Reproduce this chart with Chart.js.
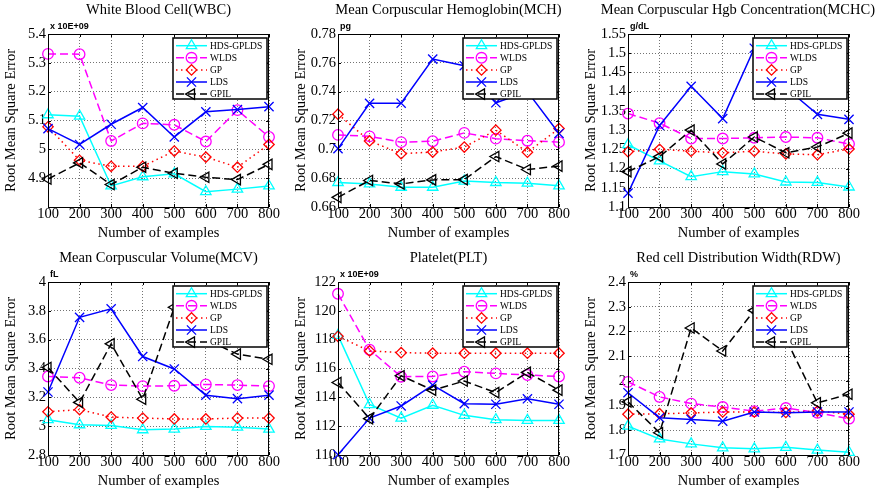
<!DOCTYPE html>
<html>
<head>
<meta charset="utf-8">
<script src="https://cdn.jsdelivr.net/npm/chart.js@4.4.0/dist/chart.umd.min.js"></script>
<style>
  html, body { margin: 0; padding: 0; background: #fff; }
  #wrap { position: relative; width: 878px; height: 496px; }
  .panel { position: absolute; height: 248px; }
</style>
</head>
<body>
<div id="wrap">
  <div class="panel" style="left:0;top:0;width:290px"><canvas id="c0"></canvas></div>
  <div class="panel" style="left:290px;top:0;width:290px"><canvas id="c1"></canvas></div>
  <div class="panel" style="left:580px;top:0;width:298px"><canvas id="c2"></canvas></div>
  <div class="panel" style="left:0;top:248px;width:290px"><canvas id="c3"></canvas></div>
  <div class="panel" style="left:290px;top:248px;width:290px"><canvas id="c4"></canvas></div>
  <div class="panel" style="left:580px;top:248px;width:298px"><canvas id="c5"></canvas></div>
</div>
<script>
// x values shared by every panel
var examples = [100, 200, 300, 400, 500, 600, 700, 800];
var seriesNames = ['HDS-GPLDS', 'WLDS', 'GP', 'LDS', 'GPIL'];

// White Blood Cell (x 10E+09)
var wbcHds  = [5.12, 5.115, 4.873, 4.905, 4.915, 4.853, 4.862, 4.873];
var wbcWlds = [5.331, 5.33, 5.029, 5.09, 5.085, 5.027, 5.136, 5.043];
var wbcGp   = [5.078, 4.962, 4.941, 4.941, 4.994, 4.973, 4.938, 5.017];
var wbcLds  = [5.072, 5.017, 5.087, 5.145, 5.043, 5.13, 5.138, 5.148];
var wbcGpil = [4.897, 4.953, 4.878, 4.938, 4.917, 4.903, 4.895, 4.948];

// Mean Corpuscular Hemoglobin (pg)
var mchHds  = [0.677, 0.676, 0.6737, 0.6737, 0.678, 0.677, 0.6765, 0.6747];
var mchWlds = [0.710, 0.709, 0.705, 0.7056, 0.7114, 0.7074, 0.706, 0.705];
var mchGp   = [0.7244, 0.7058, 0.697, 0.6981, 0.7016, 0.7133, 0.698, 0.7144];
var mchLds  = [0.7005, 0.7319, 0.732, 0.7626, 0.758, 0.7323, 0.74, 0.711];
var mchGpil = [0.6667, 0.6784, 0.676, 0.6788, 0.679, 0.695, 0.686, 0.6884];

// Mean Corpuscular Hgb Concentration (g/dL)
var mchcHds  = [1.262, 1.22, 1.179, 1.192, 1.186, 1.165, 1.164, 1.152];
var mchcWlds = [1.343, 1.318, 1.278, 1.278, 1.28, 1.282, 1.28, 1.264];
var mchcGp   = [1.244, 1.25, 1.245, 1.241, 1.245, 1.238, 1.236, 1.251];
var mchcLds  = [1.136, 1.312, 1.414, 1.33, 1.513, 1.41, 1.341, 1.328];
var mchcGpil = [1.192, 1.231, 1.3, 1.212, 1.282, 1.241, 1.256, 1.292];

// Mean Corpuscular Volume (fL)
var mcvHds  = [3.045, 3.01, 3.005, 2.975, 2.98, 2.998, 2.993, 2.98];
var mcvWlds = [3.345, 3.336, 3.285, 3.278, 3.28, 3.289, 3.285, 3.278];
var mcvGp   = [3.1, 3.115, 3.063, 3.056, 3.05, 3.05, 3.056, 3.056];
var mcvLds  = [3.237, 3.755, 3.814, 3.483, 3.397, 3.215, 3.191, 3.215];
var mcvGpil = [3.407, 3.165, 3.571, 3.187, 3.825, 3.6, 3.5, 3.464];

// Platelet (x 10E+09)
var pltHds  = [118.3, 113.5, 112.56, 113.45, 112.75, 112.45, 112.4, 112.4];
var pltWlds = [121.18, 117.3, 115.43, 115.45, 115.78, 115.66, 115.55, 115.45];
var pltGp   = [118.23, 117.22, 117.1, 117.06, 117.06, 117.06, 117.06, 117.06];
var pltLds  = [110.02, 112.56, 113.4, 114.85, 113.56, 113.52, 113.9, 113.52];
var pltGpil = [115.03, 112.52, 115.5, 114.5, 115.13, 114.33, 115.73, 114.5];

// Red cell Distribution Width (%)
var rdwHds  = [1.817, 1.765, 1.745, 1.729, 1.725, 1.731, 1.72, 1.711];
var rdwWlds = [1.996, 1.935, 1.908, 1.894, 1.877, 1.89, 1.871, 1.847];
var rdwGp   = [1.865, 1.867, 1.87, 1.874, 1.874, 1.872, 1.878, 1.865];
var rdwLds  = [1.952, 1.851, 1.844, 1.837, 1.874, 1.871, 1.874, 1.874];
var rdwGpil = [1.915, 1.79, 2.214, 2.121, 2.285, 2.17, 1.911, 1.946];

var panels = [
    { id: 'c0', title: 'White Blood Cell(WBC)', unit: 'x 10E+09', min: 4.8, max: 5.4, step: 0.1, hide: 4.8,
      series: [wbcHds, wbcWlds, wbcGp, wbcLds, wbcGpil] },
    { id: 'c1', title: 'Mean Corpuscular Hemoglobin(MCH)', unit: 'pg', min: 0.66, max: 0.78, step: 0.02,
      series: [mchHds, mchWlds, mchGp, mchLds, mchGpil] },
    { id: 'c2', title: 'Mean Corpuscular Hgb Concentration(MCHC)', unit: 'g/dL', min: 1.1, max: 1.55, step: 0.05,
      series: [mchcHds, mchcWlds, mchcGp, mchcLds, mchcGpil] },
    { id: 'c3', title: 'Mean Corpuscular Volume(MCV)', unit: 'fL', min: 2.8, max: 4, step: 0.2,
      series: [mcvHds, mcvWlds, mcvGp, mcvLds, mcvGpil] },
    { id: 'c4', title: 'Platelet(PLT)', unit: 'x 10E+09', min: 110, max: 122, step: 2,
      series: [pltHds, pltWlds, pltGp, pltLds, pltGpil] },
    { id: 'c5', title: 'Red cell Distribution Width(RDW)', unit: '%', min: 1.7, max: 2.4, step: 0.1,
      series: [rdwHds, rdwWlds, rdwGp, rdwLds, rdwGpil] }
];

// line / marker look of each series (MATLAB style)
var looks = [
    { color: '#00ffff', dash: [],     point: 'triangle', rot: 0,   r: 6 },
    { color: '#ff00ff', dash: [8, 4], point: 'circle',   rot: 0,   r: 5.3 },
    { color: '#ff0000', dash: [1.5, 3.5], point: 'rectRot', rot: 0, r: 5.2 },
    { color: '#0000ff', dash: [],     point: 'crossRot', rot: 0,   r: 6.5 },
    { color: '#000000', dash: [8, 4], point: 'triangle', rot: -90, r: 6 }
];

var SERIF = '"Liberation Serif", "Times New Roman", serif';

// axes box, inward ticks, title, unit label and boxed legend
var matlabFrame = {
    id: 'matlabFrame',
    afterDatasetsDraw: function(chart) {
        var ctx = chart.ctx, a = chart.chartArea;
        ctx.save();
        ctx.strokeStyle = '#000';
        ctx.lineWidth = 1;
        ctx.strokeRect(a.left + 0.5, a.top + 0.5, a.right - a.left - 1, a.bottom - a.top);
        ctx.beginPath();
        chart.scales.x.ticks.forEach(function(t, i) {
            var px = Math.round(chart.scales.x.getPixelForTick(i)) + 0.5;
            ctx.moveTo(px, a.bottom); ctx.lineTo(px, a.bottom - 3);
            ctx.moveTo(px, a.top); ctx.lineTo(px, a.top + 3);
        });
        chart.scales.y.ticks.forEach(function(t, i) {
            var py = Math.round(chart.scales.y.getPixelForTick(i)) + 0.5;
            ctx.moveTo(a.left, py); ctx.lineTo(a.left + 3, py);
            ctx.moveTo(a.right, py); ctx.lineTo(a.right - 3, py);
        });
        ctx.stroke();
        ctx.restore();
    },
    afterDraw: function(chart, args, opts) {
        var ctx = chart.ctx, a = chart.chartArea;
        ctx.save();

        // title centred on the axes, kept inside the canvas
        ctx.font = '14.5px ' + SERIF;
        ctx.fillStyle = '#000';
        ctx.textAlign = 'center';
        ctx.textBaseline = 'alphabetic';
        var tw = ctx.measureText(opts.title).width;
        var cx = Math.min((a.left + a.right) / 2, chart.width - tw / 2 - 3);
        ctx.fillText(opts.title, cx, 14);

        // unit label above the y axis
        ctx.font = 'bold 9px "Liberation Sans", Arial, sans-serif';
        ctx.textAlign = 'left';
        ctx.fillText(opts.unit, a.left + 2, 29);

        // legend box
        var w = 94, h = 61;
        var x0 = a.right - w - 2, y0 = a.top + 4;
        ctx.fillStyle = '#fff';
        ctx.fillRect(x0, y0, w, h);
        ctx.lineWidth = 1.5;
        ctx.strokeStyle = '#000';
        ctx.strokeRect(x0, y0, w, h);
        chart.data.datasets.forEach(function(ds, i) {
            var y = y0 + 7.7 + i * 12.1;
            ctx.strokeStyle = ds.borderColor;
            ctx.lineWidth = ds.borderWidth;
            ctx.setLineDash(ds.borderDash);
            ctx.beginPath();
            ctx.moveTo(x0 + 3, y);
            ctx.lineTo(x0 + 34, y);
            ctx.stroke();
            ctx.setLineDash([]);
            ctx.lineWidth = ds.pointBorderWidth;
            ctx.fillStyle = 'rgba(0,0,0,0)';
            Chart.helpers.drawPoint(ctx, {
                pointStyle: ds.pointStyle,
                rotation: ds.pointRotation,
                radius: ds.pointRadius,
                borderWidth: ds.pointBorderWidth
            }, x0 + 18.5, y);
            ctx.fillStyle = '#000';
            ctx.font = '9.5px ' + SERIF;
            ctx.textBaseline = 'middle';
            ctx.fillText(ds.label, x0 + 37, y + 0.5);
        });
        ctx.restore();
    }
};

function makeChart(p) {
    var ctx = document.getElementById(p.id).getContext('2d');
    var datasets = p.series.map(function(values, i) {
        var lk = looks[i];
        return {
            label: seriesNames[i],
            data: values,
            borderColor: lk.color,
            borderWidth: 1.5,
            borderDash: lk.dash,
            pointStyle: lk.point,
            pointRotation: lk.rot,
            pointRadius: lk.r,
            pointBorderWidth: 1.3,
            pointBorderColor: lk.color,
            pointBackgroundColor: 'rgba(0,0,0,0)',
            tension: 0,
            fill: false,
            clip: false,
            order: 5 - i
        };
    });
    return new Chart(ctx, {
        type: 'line',
        data: { labels: examples, datasets: datasets },
        options: {
            responsive: true,
            maintainAspectRatio: false,
            animation: false,
            events: [],
            layout: { padding: { top: 34, right: p.id === 'c2' || p.id === 'c5' ? 29 : 21, left: 0, bottom: 0 } },
            plugins: {
                legend: { display: false },
                tooltip: { enabled: false },
                matlabFrame: { title: p.title, unit: p.unit }
            },
            scales: {
                x: {
                    type: 'category',
                    offset: false,
                    grid: { color: 'rgba(0,0,0,0.55)', lineWidth: 1, drawTicks: false, offset: false },
                    border: { display: false, dash: [1, 2] },
                    ticks: { color: '#000', font: { family: SERIF, size: 14.5 }, padding: -2, autoSkip: false, maxRotation: 0 },
                    title: { display: true, text: 'Number of examples', color: '#000',
                             font: { family: SERIF, size: 14.5 }, padding: { top: 0, bottom: 6.3 } },
                    afterFit: function(s) { s.height = 41; }
                },
                y: {
                    min: p.min,
                    max: p.max,
                    grid: { color: 'rgba(0,0,0,0.55)', lineWidth: 1, drawTicks: false },
                    border: { display: false, dash: [1, 2] },
                    ticks: {
                        stepSize: p.step,
                        autoSkip: false,
                        maxTicksLimit: 20,
                        color: '#000',
                        font: { family: SERIF, size: 14.5, lineHeight: 0.8 },
                        padding: 2,
                        callback: function(v) {
                            if (p.hide !== undefined && Math.abs(v - p.hide) < 1e-9) return '';
                            return String(+v.toFixed(3));
                        }
                    },
                    title: { display: true, text: 'Root Mean Square Error', color: '#000',
                             font: { family: SERIF, size: 14.5 }, padding: { top: 2.3, bottom: 0 } },
                    afterFit: function(s) { s.width = 48; }
                }
            }
        },
        plugins: [matlabFrame]
    });
}

document.addEventListener('DOMContentLoaded', function() {
    panels.forEach(makeChart);
});
</script>
</body>
</html>
